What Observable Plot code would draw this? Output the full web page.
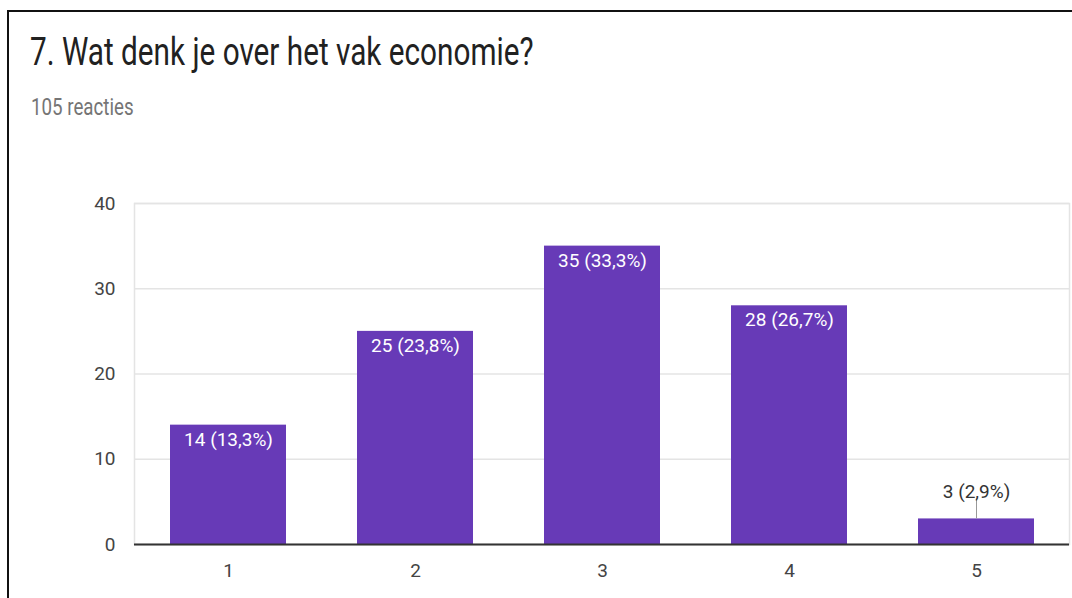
<!DOCTYPE html>
<html>
<head>
<meta charset="utf-8">
<script src="https://cdn.jsdelivr.net/npm/d3@7"></script>
<script src="https://cdn.jsdelivr.net/npm/@observablehq/plot@0.6"></script>
<style>
  html, body { margin: 0; padding: 0; background: #fff; }
  body { width: 1072px; height: 598px; position: relative; overflow: hidden; font-family: Roboto, "Noto Sans", sans-serif; }
  #frame { position: absolute; left: 7px; top: 10px; width: 1080px; height: 600px; border-left: 2px solid #111; border-top: 2px solid #111; box-sizing: border-box; }
  #title { position: absolute; left: 30px; top: 29px; font-size: 39px; line-height: 46px; color: #212121; white-space: nowrap; transform: scaleX(0.762); transform-origin: 0 0; }
  #subtitle { position: absolute; left: 31px; top: 93px; font-size: 24px; line-height: 28px; color: #757575; white-space: nowrap; transform: scaleX(0.78); transform-origin: 0 0; }
  #chart { position: absolute; left: 0; top: 150px; }
</style>
</head>
<body>
<div id="frame"></div>
<div id="title">7. Wat denk je over het vak economie?</div>
<div id="subtitle">105 reacties</div>
<div id="chart"></div>
<script>
const categories = ["1", "2", "3", "4", "5"];
const counts = [14, 25, 35, 28, 3];
const percents = ["13,3", "23,8", "33,3", "26,7", "2,9"];
const yTicks = [0, 10, 20, 30, 40];

const data = categories.map((c, i) => ({
  cat: c,
  value: counts[i],
  label: `${counts[i]} (${percents[i]}%)`
}));
const inside = data.filter(d => d.value >= 5);
const outside = data.filter(d => d.value < 5);

const chart = Plot.plot({
  width: 1072,
  height: 448,
  marginLeft: 134,
  marginRight: 3,
  marginTop: 53,
  marginBottom: 54,
  style: { fontFamily: "Roboto, sans-serif", background: "transparent", overflow: "visible" },
  x: { domain: categories, paddingInner: 0.38, paddingOuter: 0.19, label: null, tickSize: 0, tickPadding: 19 },
  y: { domain: [0, 40], ticks: yTicks, label: null, tickSize: 0, tickPadding: 19 },
  marks: [
    Plot.gridY(yTicks, { stroke: "#e4e4e4", strokeOpacity: 1, strokeWidth: 1.5 }),
    Plot.frame({ stroke: "#e4e4e4", strokeWidth: 1.5 }),
    Plot.barY(data, { x: "cat", y: "value", fill: "#673ab7" }),
    Plot.text(inside, { x: "cat", y: "value", text: "label", fill: "#ffffff", fontSize: 19, lineAnchor: "top", dy: 7 }),
    Plot.ruleX(outside, { x: "cat", y1: "value", y2: "value", insetBottom: 20, stroke: "#999", strokeWidth: 1 }),
    Plot.text(outside, { x: "cat", y: "value", text: "label", fill: "#333", fontSize: 19, lineAnchor: "middle", dy: -27 }),
    Plot.ruleY([0], { stroke: "#333", strokeWidth: 2 }),
    Plot.axisX({ tickSize: 0, tickPadding: 19, fontSize: 19, color: "#444" }),
    Plot.axisY(yTicks, { tickSize: 0, tickPadding: 19, fontSize: 19, color: "#444" })
  ]
});
document.getElementById("chart").appendChild(chart);
</script>
</body>
</html>
